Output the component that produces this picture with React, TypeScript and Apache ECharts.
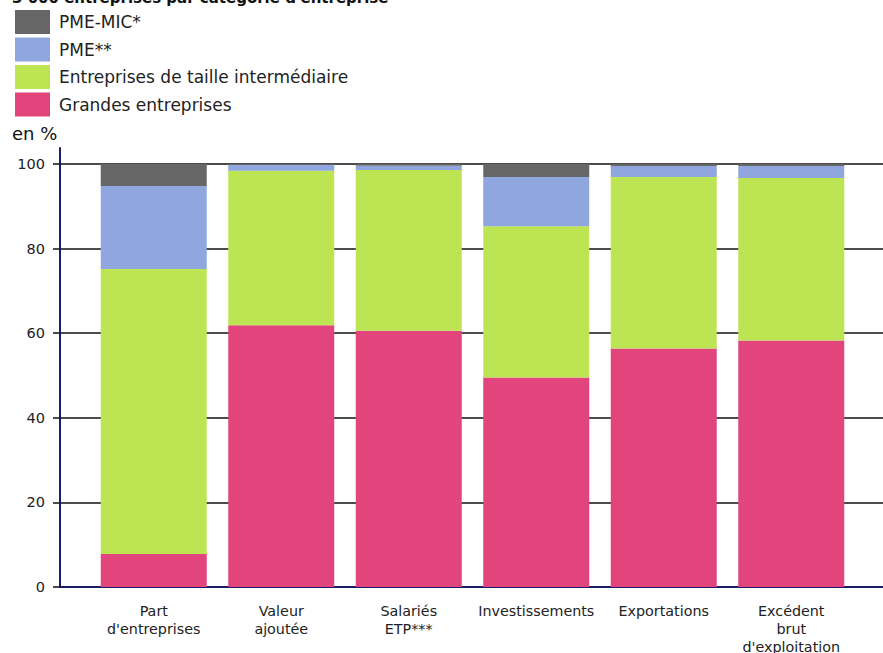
import React, { useEffect, useRef } from "react";
import * as echarts from "echarts";

const titleText = "3 000 entreprises par catégorie d'entreprise";
const unitLabel = "en %";
const categories = [
  "Part\nd'entreprises",
  "Valeur\najoutée",
  "Salariés\nETP***",
  "Investissements",
  "Exportations",
  "Excédent\nbrut\nd'exploitation",
];
const seriesNames = ["Grandes entreprises", "Entreprises de taille intermédiaire", "PME**", "PME-MIC*"];
const grandes = [7.8, 61.9, 60.6, 49.5, 56.4, 58.3];
const eti = [67.4, 36.5, 38.0, 35.8, 40.5, 38.4];
const pme = [19.6, 1.4, 1.0, 11.6, 2.6, 2.8];
const mic = [5.2, 0.2, 0.4, 3.1, 0.5, 0.5];
const colors = ["#e2457b", "#bde553", "#8fa7de", "#666666"];
const legendOrder = ["PME-MIC*", "PME**", "Entreprises de taille intermédiaire", "Grandes entreprises"];

const FONT = "DejaVu Sans";

export default function App() {
  const ref = useRef<HTMLDivElement>(null);
  useEffect(() => {
    document.body.style.margin = "0";
    if (!ref.current) return;
    const chart = echarts.init(ref.current, null, { renderer: "svg" });
    const values = [grandes, eti, pme, mic];
    chart.setOption({
      animation: false,
      backgroundColor: "#ffffff",
      title: {
        text: titleText,
        left: 12,
        top: -10,
        padding: 0,
        textStyle: { fontFamily: FONT, fontSize: 15, fontWeight: "bold", color: "#111" },
      },
      legend: {
        orient: "vertical",
        left: 15,
        top: 10,
        padding: 0,
        itemWidth: 35,
        itemHeight: 24,
        itemGap: 3.5,
        icon: "rect",
        data: legendOrder,
        selectedMode: false,
        textStyle: { fontFamily: FONT, fontSize: 17, color: "#222", padding: [0, 0, 0, 4] },
      },
      graphic: [
        {
          type: "text",
          left: 12,
          top: 124,
          style: { text: unitLabel, fontFamily: FONT, fontSize: 18, fill: "#111" },
        },
      ],
      grid: [
        { left: 60, right: 0, top: 164, bottom: 66, outerBoundsMode: "none" },
        { left: 90, right: 28, top: 164, bottom: 66, outerBoundsMode: "none" },
        { left: 60, right: 0, top: 148, bottom: 66, outerBoundsMode: "none" },
      ],
      xAxis: [
        {
          gridIndex: 0,
          type: "category",
          data: [""],
          axisLine: { show: true, lineStyle: { color: "#1c1c6c", width: 2 } },
          axisTick: { show: false },
          axisLabel: { show: false },
        },
        {
          gridIndex: 1,
          type: "category",
          data: categories,
          axisLine: { show: false },
          axisTick: { show: false },
          axisLabel: {
            interval: 0,
            margin: 15,
            fontFamily: FONT,
            fontSize: 14.3,
            lineHeight: 18,
            color: "#222",
            align: "center",
          },
        },
        {
          gridIndex: 2,
          type: "category",
          data: [""],
          show: false,
        },
      ],
      yAxis: [
        {
          gridIndex: 0,
          type: "value",
          min: 0,
          max: 100,
          interval: 20,
          axisLine: { show: false },
          axisTick: { show: true, length: 7, lineStyle: { color: "#111", width: 1.5 } },
          axisLabel: { margin: 15, fontFamily: FONT, fontSize: 14.5, color: "#222" },
          splitLine: { show: true, lineStyle: { color: "#111", width: 1.5 } },
        },
        {
          gridIndex: 1,
          type: "value",
          min: 0,
          max: 100,
          show: false,
          splitLine: { show: false },
        },
        {
          gridIndex: 2,
          type: "value",
          min: 0,
          max: 100,
          axisLine: { show: true, lineStyle: { color: "#1c1c6c", width: 2 } },
          axisTick: { show: false },
          axisLabel: { show: false },
          splitLine: { show: false },
        },
      ],
      series: seriesNames.map((name, i) => ({
        name,
        type: "bar",
        stack: "total",
        xAxisIndex: 1,
        yAxisIndex: 1,
        barWidth: 106,
        itemStyle: { color: colors[i] },
        data: values[i],
        z: 3,
      })),
    });
    return () => chart.dispose();
  }, []);
  return <div ref={ref} style={{ width: 883, height: 653 }} />;
}
